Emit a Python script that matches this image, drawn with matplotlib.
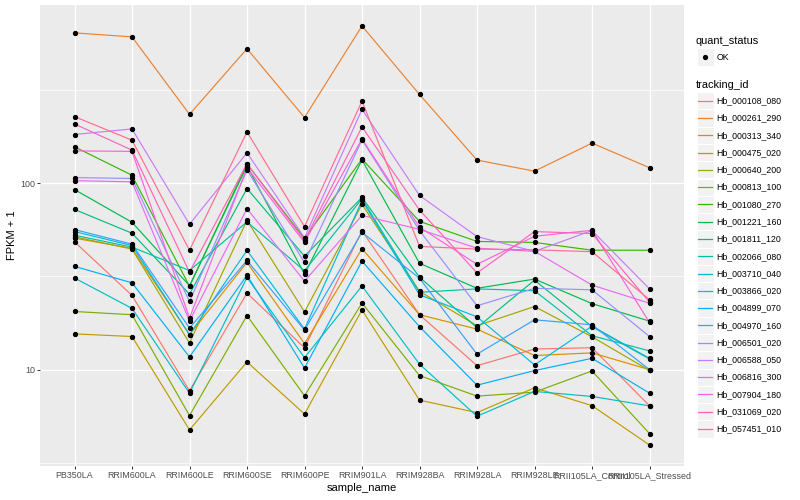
import numpy as np
import matplotlib
matplotlib.use("Agg")
import matplotlib.pyplot as plt
from matplotlib.lines import Line2D
from matplotlib.patches import Rectangle
from matplotlib.ticker import FixedLocator, NullFormatter

plt.rcParams['font.family'] = ['Liberation Sans', 'DejaVu Sans']

samples = ['PB350LA', 'RRIM600LA', 'RRIM600LE', 'RRIM600SE', 'RRIM600PE',
           'RRIM901LA', 'RRIM928BA', 'RRIM928LA', 'RRIM928LE',
           'RRII105LA_Control', 'RRII105LA_Stressed']

tracking_ids = ['Hb_000108_080', 'Hb_000261_290', 'Hb_000313_340', 'Hb_000475_020',
                'Hb_000640_200', 'Hb_000813_100', 'Hb_001080_270', 'Hb_001221_160',
                'Hb_001811_120', 'Hb_002066_080', 'Hb_003710_040', 'Hb_003866_020',
                'Hb_004899_070', 'Hb_004970_160', 'Hb_006501_020', 'Hb_006588_050',
                'Hb_006816_300', 'Hb_007904_180', 'Hb_031069_020', 'Hb_057451_010']

# ggplot hue palette, 20 levels
colors = ['#F8766D', '#EA8331', '#D89000', '#C09B00', '#A3A500', '#7CAE00',
          '#39B600', '#00BB4E', '#00BF7D', '#00C1A3', '#00BFC4', '#00BAE0',
          '#00B0F6', '#35A2FF', '#9590FF', '#C77CFF', '#E76BF3', '#FA62DB',
          '#FF62BC', '#FF6C91']

# FPKM + 1, one value per sample
hb_000108_080 = [48.5, 25.0, 7.7, 25.7, 13.1, 55.5, 19.7, 10.5, 12.9, 13.1, 6.4]
hb_000261_290 = [640, 609, 234, 526, 225, 697, 299, 133, 116, 164, 121]
hb_000313_340 = [50.7, 44.7, 15.4, 37.6, 13.8, 44.5, 19.7, 16.5, 11.9, 12.3, 10.0]
hb_000475_020 = [15.55, 15.05, 4.75, 11.0, 5.78, 20.9, 6.86, 5.88, 7.99, 6.41, 3.94]
hb_000640_200 = [51.6, 44.3, 13.9, 63.2, 20.4, 76.9, 26.3, 17.2, 21.8, 15.0, 9.9]
hb_000813_100 = [20.5, 19.7, 5.67, 19.5, 7.24, 22.75, 9.29, 7.21, 7.57, 9.84, 4.54]
hb_001080_270 = [156.7, 110.3, 28.0, 126.7, 50.5, 134.7, 62.4, 48.7, 48.1, 43.7, 43.7]
hb_001221_160 = [92.4, 61.7, 28.2, 123.7, 32.5, 133.1, 37.2, 27.3, 30.6, 22.6, 18.2]
hb_001811_120 = [72.3, 53.9, 25.4, 93.6, 40.6, 83.8, 31.3, 16.8, 30.2, 17.0, 11.4]
hb_002066_080 = [52.6, 45.4, 34.0, 62.0, 33.9, 82.5, 26.0, 27.1, 26.5, 15.2, 12.6]
hb_003710_040 = [31.0, 21.3, 7.48, 31.2, 11.6, 28.1, 10.7, 5.62, 7.64, 7.18, 6.39]
hb_003866_020 = [55.0, 46.3, 15.4, 43.6, 16.5, 80.8, 25.2, 19.2, 10.6, 17.1, 11.5]
hb_004899_070 = [35.8, 29.2, 11.7, 32.1, 10.2, 38.2, 17.0, 8.25, 9.88, 11.5, 7.48]
hb_004970_160 = [56.4, 47.1, 16.7, 38.5, 16.3, 54.5, 30.9, 12.1, 18.5, 17.4, 10.0]
hb_006501_020 = [107.1, 106.0, 23.2, 117.7, 37.6, 170.8, 55.7, 22.0, 27.3, 26.8, 15.05]
hb_006588_050 = [182.4, 195.4, 60.2, 145.5, 51.0, 248.7, 85.9, 51.7, 43.1, 55.7, 27.1]
hb_006816_300 = [103.2, 101.6, 18.2, 73.0, 29.8, 67.2, 56.5, 44.8, 43.1, 28.4, 22.7]
hb_007904_180 = [149.0, 148.1, 18.9, 121.1, 48.1, 172.8, 58.1, 36.7, 51.9, 55.9, 17.9]
hb_031069_020 = [207.7, 150.4, 33.3, 127.2, 49.3, 200.2, 71.8, 33.0, 55.0, 53.7, 23.0]
hb_057451_010 = [227.5, 170.1, 43.7, 188.3, 58.5, 275.5, 45.8, 44.3, 43.9, 42.9, 23.7]

series = [hb_000108_080, hb_000261_290, hb_000313_340, hb_000475_020, hb_000640_200,
          hb_000813_100, hb_001080_270, hb_001221_160, hb_001811_120, hb_002066_080,
          hb_003710_040, hb_003866_020, hb_004899_070, hb_004970_160, hb_006501_020,
          hb_006588_050, hb_006816_300, hb_007904_180, hb_031069_020, hb_057451_010]

W, H = 800, 500
fig = plt.figure(figsize=(8, 5), dpi=100)
ax = fig.add_axes([40 / W, 34 / H, (684 - 40) / W, (466 - 5) / H])
ax.set_facecolor('#EBEBEB')
for s in ax.spines.values():
    s.set_visible(False)

x = np.arange(len(samples))
for vals, col in zip(series, colors):
    ax.plot(x, vals, color=col, lw=0.85, zorder=3)
for vals in series:
    ax.plot(x, vals, 'o', color='black', ms=2.8, zorder=4)

ax.set_yscale('log')
allv = np.concatenate([np.asarray(v, float) for v in series])
lo, hi = np.log10(allv.min()), np.log10(allv.max())
pad = 0.05 * (hi - lo)
ax.set_ylim(10 ** (lo - pad), 10 ** (hi + pad))
ax.set_xlim(-0.6, len(samples) - 0.4)

ax.yaxis.set_major_locator(FixedLocator([10, 100]))
ax.set_yticklabels(['10', '100'])
ax.yaxis.set_minor_locator(FixedLocator([10 ** 0.5, 10 ** 1.5, 10 ** 2.5]))
ax.yaxis.set_minor_formatter(NullFormatter())
ax.set_xticks(x)
ax.set_xticklabels(samples)

ax.grid(which='major', color='white', lw=1.0, zorder=0)
ax.grid(which='minor', axis='y', color='white', lw=0.5, zorder=0)
ax.set_axisbelow(True)
ax.tick_params(which='major', length=2.2, width=0.7, color='#333333',
               labelcolor='#4D4D4D', labelsize=6.4, pad=1.5)
ax.tick_params(which='minor', length=0)

ax.set_xlabel('sample_name', fontsize=8, labelpad=2)
ax.set_ylabel('FPKM + 1', fontsize=8)
ax.yaxis.set_label_coords(-0.036, 0.5)

# legends, drawn by hand in pixel positions
def fx(px):
    return px / W


def fy(py):
    return 1 - py / H


fig.text(fx(696), fy(41), 'quant_status', fontsize=7.9, va='center', ha='left')
fig.patches.append(Rectangle((fx(696.5), fy(65.5)), 17 / W, 17 / H,
                             transform=fig.transFigure, facecolor='#F2F2F2',
                             edgecolor='white', lw=0.8))
fig.lines.append(Line2D([fx(705)], [fy(57)], marker='o', color='black', ms=2.8,
                        transform=fig.transFigure))
fig.text(fx(716.5), fy(57.3), 'OK', fontsize=6.3, va='center', ha='left')

fig.text(fx(696), fy(84.5), 'tracking_id', fontsize=7.9, va='center', ha='left')
for i, (lab, col) in enumerate(zip(tracking_ids, colors)):
    yc = 100.7 + 17.28 * i
    fig.patches.append(Rectangle((fx(696.5), fy(yc + 8.6)), 17 / W, 17.2 / H,
                                 transform=fig.transFigure, facecolor='#F2F2F2',
                                 edgecolor='white', lw=0.8))
    fig.lines.append(Line2D([fx(698), fx(712)], [fy(yc), fy(yc)], color=col, lw=0.9,
                            transform=fig.transFigure))
    fig.text(fx(716.5), fy(yc), lab, fontsize=6.3, va='center', ha='left')

fig.savefig('out.png', dpi=100)
